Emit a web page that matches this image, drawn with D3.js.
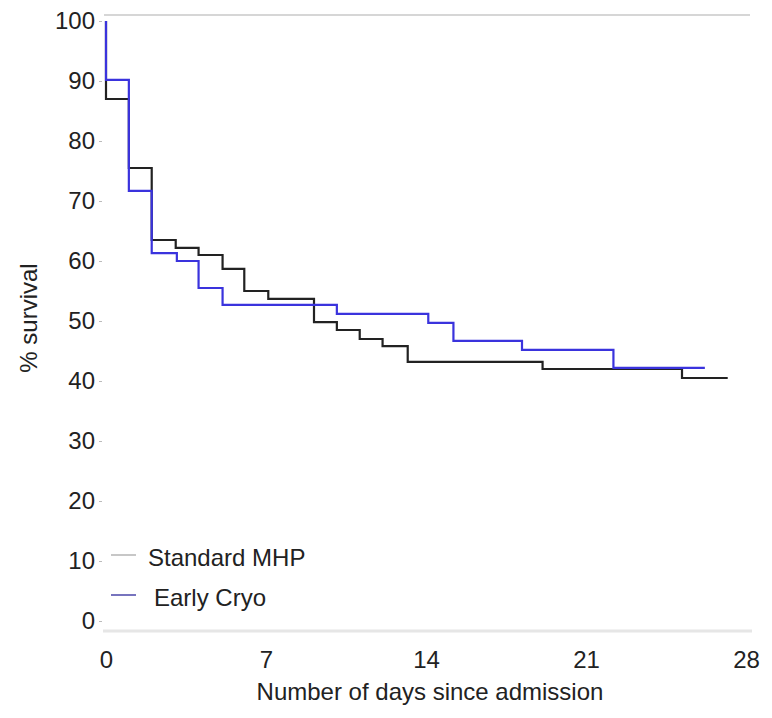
<!DOCTYPE html>
<html>
<head>
<meta charset="utf-8">
<script src="https://cdn.jsdelivr.net/npm/d3@7"></script>
<style>
  body { margin: 0; background: #fff; }
  text { font-family: "Liberation Sans", Arial, sans-serif; fill: #222; }
</style>
</head>
<body>
<div id="chart"></div>
<script>
// Kaplan-Meier steps: day of each step and % survival after it
const stdDays = [0, 0, 1, 2, 3.05, 4.05, 5.1, 6.05, 7.1, 9.1, 10.1, 11.1, 12.1, 13.2, 19.1, 25.2, 27.2];
const stdSurv = [100, 87, 75.5, 63.5, 62.2, 61, 58.7, 55, 53.7, 49.8, 48.5, 47, 45.8, 43.2, 42, 40.5, 40.5];
const cryoDays = [0, 0, 1, 2, 3.1, 4.05, 5.1, 10.1, 14.1, 15.2, 18.2, 22.2, 26.2];
const cryoSurv = [100, 90.2, 71.7, 61.3, 60, 55.5, 52.7, 51.2, 49.7, 46.7, 45.2, 42.2, 42.2];
const yTicks = [0, 10, 20, 30, 40, 50, 60, 70, 80, 90, 100];
const xTicks = [0, 7, 14, 21, 28];
const seriesNames = ["Standard MHP", "Early Cryo"];

const W = 772, H = 718;
const fontSize = "24px";
const svg = d3.select("#chart").append("svg")
    .attr("width", W)
    .attr("height", H);

const x = d3.scaleLinear().domain([0, 28]).range([106, 746]);
const y = d3.scaleLinear().domain([0, 100]).range([621, 21]);

// frame lines top and bottom
svg.append("line")
    .attr("x1", x(0) - 2).attr("x2", x(28) + 4)
    .attr("y1", y(100) - 6).attr("y2", y(100) - 6)
    .attr("stroke", "#c8c8c8").attr("stroke-width", 1.5);
svg.append("line")
    .attr("x1", x(0) - 3).attr("x2", x(28) + 6)
    .attr("y1", y(0) + 10).attr("y2", y(0) + 10)
    .attr("stroke", "#e6e6e6").attr("stroke-width", 3);

// y axis
const yAxis = svg.append("g")
    .attr("transform", `translate(${x(0) - 4},0)`)
    .call(d3.axisLeft(y).tickValues(yTicks).tickSize(3).tickPadding(4));
yAxis.select(".domain").remove();
yAxis.selectAll(".tick line").attr("stroke", "#bbb");
yAxis.selectAll("text").style("font-size", fontSize).attr("fill", "#222")
    .attr("font-family", "Liberation Sans, Arial, sans-serif");

// x axis
const xAxis = svg.append("g")
    .attr("transform", `translate(0,${y(0) + 30})`)
    .call(d3.axisBottom(x).tickValues(xTicks).tickSize(0).tickPadding(0));
xAxis.select(".domain").remove();
xAxis.selectAll("text").style("font-size", fontSize).attr("fill", "#222")
    .attr("font-family", "Liberation Sans, Arial, sans-serif");

// axis titles
svg.append("text")
    .attr("x", 430)
    .attr("y", 700)
    .attr("text-anchor", "middle")
    .style("font-size", fontSize)
    .text("Number of days since admission");

svg.append("text")
    .attr("transform", `translate(37,${318}) rotate(-90)`)
    .attr("text-anchor", "middle")
    .style("font-size", fontSize)
    .text("% survival");

// step curves
const line = d3.line()
    .x(d => x(d[0]))
    .y(d => y(d[1]))
    .curve(d3.curveStepAfter);

svg.append("path")
    .datum(d3.zip(stdDays, stdSurv))
    .attr("d", line)
    .attr("fill", "none")
    .attr("stroke", "#222")
    .attr("stroke-width", 2.2);

svg.append("path")
    .datum(d3.zip(cryoDays, cryoSurv))
    .attr("d", line)
    .attr("fill", "none")
    .attr("stroke", "#3a33dd")
    .attr("stroke-width", 2.2);

// legend
const legendColors = ["#b5b5b5", "#4a46a8"];
const legendX = [148, 154];
const legend = svg.append("g");
seriesNames.forEach((name, i) => {
    const ly = 558 + i * 40;
    legend.append("line")
        .attr("x1", 111).attr("x2", 136)
        .attr("y1", ly - 3).attr("y2", ly - 3)
        .attr("stroke", legendColors[i])
        .attr("stroke-width", 1.5);
    legend.append("text")
        .attr("x", legendX[i])
        .attr("y", ly)
        .attr("dy", "0.35em")
        .style("font-size", fontSize)
        .text(name);
});
</script>
</body>
</html>
